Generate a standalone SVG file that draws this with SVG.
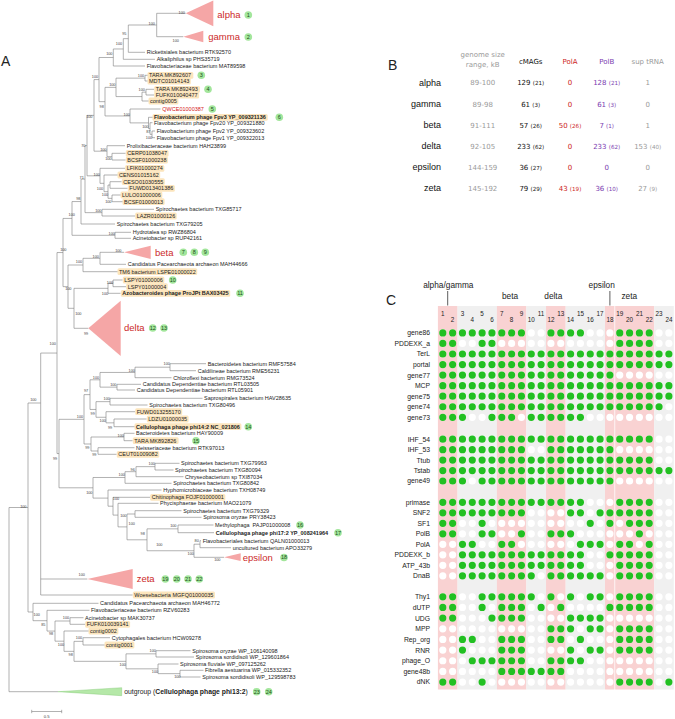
<svg xmlns="http://www.w3.org/2000/svg" width="675" height="719" viewBox="0 0 675 719">
<style>
.t{font-family:"Liberation Sans",Arial,sans-serif;font-size:5.5px;fill:#222}
.b{font-weight:bold}
.red{fill:#d42020}
.bs{font-family:"Liberation Sans",Arial,sans-serif;font-size:3.8px;fill:#444;text-anchor:middle}
.hl{fill:#fce5bd}
.br{fill:none;stroke:#7d7d7d;stroke-width:0.6}
.tri{fill:#f5a6a6}
.cl{font-family:"Liberation Sans",Arial,sans-serif;font-size:9.5px;fill:#cc2a2a}
.bdg circle{fill:#a3e69c}
.bdg text{font-family:"Liberation Sans",Arial,sans-serif;font-size:5.5px;fill:#1b4d1b;text-anchor:middle}
.pl{font-family:"Liberation Sans",Arial,sans-serif;font-size:14px;fill:#222}
.tb{font-family:"DejaVu Sans",Verdana,sans-serif;font-size:7px;text-anchor:middle}
.gr{fill:#9a9a9a}.rd{fill:#cc1a1a}.pu{fill:#7a3bb0}.bk{fill:#111}
.sm{font-size:5.6px}
.rn{font-family:"Liberation Sans",Arial,sans-serif;font-size:9px;fill:#111;text-anchor:end}
.rl{font-family:"Liberation Sans",Arial,sans-serif;font-size:6.8px;fill:#222;text-anchor:end}
.cn{font-family:"Liberation Sans",Arial,sans-serif;font-size:6.3px;fill:#222;text-anchor:middle}
.ch{font-family:"Liberation Sans",Arial,sans-serif;font-size:8.3px;fill:#222;text-anchor:middle}
.pk{fill:#f9d2d2}.gy{fill:#f0f0f0}
.dw{fill:none;stroke:#fff;stroke-width:7.2;stroke-linecap:round;stroke-dasharray:0 9.83}
.dg{fill:none;stroke:#22c022;stroke-width:7.2;stroke-linecap:round;stroke-dasharray:0 9.83}
</style>
<rect width="675" height="719" fill="#fff"/>

<!-- Panel labels -->
<text class="pl" x="1" y="66">A</text>
<text class="pl" x="388" y="70">B</text>
<text class="pl" x="386" y="305">C</text>

<!-- ================= PANEL A : TREE ================= -->
<g id="highlights">
<rect class="hl" x="147.5" y="71.9" width="45.8" height="6.8" rx="1.5"/>
<rect class="hl" x="147.5" y="77.6" width="43.3" height="6.8" rx="1.5"/>
<rect class="hl" x="154.2" y="85.9" width="45.8" height="6.8" rx="1.5"/>
<rect class="hl" x="154.2" y="91.6" width="44.9" height="6.8" rx="1.5"/>
<rect class="hl" x="148.5" y="97.6" width="29.9" height="6.8" rx="1.5"/>
<rect class="hl" x="152.5" y="113.9" width="115.2" height="6.8" rx="1.5"/>
<rect class="hl" x="125.8" y="149.9" width="42.7" height="6.8" rx="1.5"/>
<rect class="hl" x="125.8" y="156.6" width="42.1" height="6.8" rx="1.5"/>
<rect class="hl" x="125.2" y="164.9" width="39.1" height="6.8" rx="1.5"/>
<rect class="hl" x="117.5" y="171.6" width="42.7" height="6.8" rx="1.5"/>
<rect class="hl" x="121.8" y="178.3" width="43" height="6.8" rx="1.5"/>
<rect class="hl" x="127.8" y="184.9" width="47" height="6.8" rx="1.5"/>
<rect class="hl" x="120.5" y="191.6" width="41.8" height="6.8" rx="1.5"/>
<rect class="hl" x="122.5" y="198.3" width="42.1" height="6.8" rx="1.5"/>
<rect class="hl" x="135.2" y="212.6" width="41.5" height="6.8" rx="1.5"/>
<rect class="hl" x="117.5" y="268.3" width="79.7" height="6.8" rx="1.5"/>
<rect class="hl" x="122.8" y="276.6" width="41.5" height="6.8" rx="1.5"/>
<rect class="hl" x="126.2" y="283.3" width="41.5" height="6.8" rx="1.5"/>
<rect class="hl" x="120.8" y="289.9" width="109.4" height="6.8" rx="1.5"/>
<rect class="hl" x="135.2" y="408.3" width="47" height="6.8" rx="1.5"/>
<rect class="hl" x="146.8" y="415.6" width="41.8" height="6.8" rx="1.5"/>
<rect class="hl" x="134.5" y="423.3" width="106.9" height="6.8" rx="1.5"/>
<rect class="hl" x="132.8" y="437.3" width="45.8" height="6.8" rx="1.5"/>
<rect class="hl" x="116.8" y="450.9" width="42.4" height="6.8" rx="1.5"/>
<rect class="hl" x="150.2" y="493.9" width="75.1" height="6.8" rx="1.5"/>
<rect class="hl" x="132.8" y="591.6" width="82.2" height="6.8" rx="1.5"/>
<rect class="hl" x="85.2" y="620.9" width="44.9" height="6.8" rx="1.5"/>
<rect class="hl" x="88.5" y="627.6" width="29.9" height="6.8" rx="1.5"/>
<rect class="hl" x="104.5" y="641.6" width="29.9" height="6.8" rx="1.5"/>
</g>

<g id="tree-connectors">
<path class="br" d="M156.7 13.3V36.7M156.7 13.3H185.7M156.7 36.7H183.3
M128.3 25V52.3M128.3 25H156.7M128.3 52.3H145
M123.3 38.65V59.3M123.3 38.65H128.3M123.3 59.3H155
M113.3 48.98V66M113.3 48.98H123.3M113.3 66H145
M145 75.3V81M145 75.3H147.5M145 81H147.5
M146 89.3V95M146 89.3H154M146 95H154
M142 92.15V101M142 92.15H146M142 101H148.5
M116 78.15V96.58M116 78.15H145M116 96.58H142
M152 131V137.7M152 131H155M152 137.7H155
M150 122.7V134.35M150 122.7H152.5M150 134.35H152
M148.5 117.3V128.53M148.5 117.3H152.5M148.5 128.53H150
M130 109V122.9M130 109H160.5M130 122.9H148.5
M105 87.37V115.95M105 87.37H116M105 115.95H130
M99 57.49V101.66M99 57.49H113.3M99 101.66H105
M112 153.3V160M112 153.3H125.5M112 160H125.5
M107 145.7V156.65M107 145.7H125M107 156.65H112
M94 79.58V151.18M94 79.58H99M94 151.18H107
M112 195V201.7M112 195H120.5M112 201.7H122.5
M110 181.7V188.3M110 181.7H121.5M110 188.3H127.5
M108 185V198.35M108 185H110M108 198.35H112
M104 175V191.68M104 175H117.5M104 191.68H108
M100 168.3V183.34M100 168.3H125M100 183.34H104
M87 115.38V175.82M87 115.38H94M87 175.82H100
M102 209.3V216M102 209.3H154M102 216H135
M85 145.6V212.65M85 145.6H87M85 212.65H102
M81 179.13V224M81 179.13H85M81 224H115
M115 232.3V238.3M115 232.3H131M115 238.3H131
M72 201.56V235.3M72 201.56H81M72 235.3H115
M100 252.3V264.3M100 252.3H124M100 264.3H126
M83 258.3V271.7M83 258.3H100M83 271.7H117.5
M113 280V286.7M113 280H122.5M113 286.7H126
M108 283.35V293.3M108 283.35H113M108 293.3H120.5
M74 288.33V328.3M74 288.33H108M74 328.3H88.3
M68 265V308.3M68 265H83M68 308.3H74
M63 218.43V286.65M63 218.43H72M63 286.65H68
M170 363.7V370.7M170 363.7H206M170 370.7H196
M135 367.2V377.7M135 367.2H170M135 377.7H171.5
M117 384.3V390M117 384.3H141M117 390H135
M100 372.45V387.15M100 372.45H135M100 387.15H117
M110 398.3V405M110 398.3H202.5M110 405H147.5
M114 419V426.7M114 419H146.5M114 426.7H134.5
M106 411.7V422.85M106 411.7H135M106 422.85H114
M96 401.65V417.28M96 401.65H110M96 417.28H106
M90 379.8V409.46M90 379.8H100M90 409.46H96
M124 433.3V440.7M124 433.3H134.5M124 440.7H132.5
M98 447.7V454.3M98 447.7H134.5M98 454.3H116.5
M91 437V451M91 437H124M91 451H98
M84 394.63V444M84 394.63H90M84 444H91
M155 463.3V470M155 463.3H179.5M155 470H173.5
M136 466.65V476.7M136 466.65H155M136 476.7H183.5
M125 471.68V483.3M125 471.68H136M125 483.3H171.5
M135 510.7V517.3M135 510.7H181.5M135 517.3H201.5
M178 525V532.7M178 525H213.5M178 532.7H214
M200 540.7V547.7M200 540.7H201M200 547.7H231
M194 544.2V557.3M194 544.2H200M194 557.3H224
M147 528.85V550.75M147 528.85H178M147 550.75H194
M127 514V539.8M127 514H135M127 539.8H147
M118 503.3V526.9M118 503.3H158.5M118 526.9H127
M113 497.3V515.1M113 497.3H150M113 515.1H118
M108 490V506.2M108 490H161.5M108 506.2H113
M93 477.49V498.1M93 477.49H125M93 498.1H108
M59 419.32V487.8M59 419.32H84M59 487.8H93
M57 252.54V453.56M57 252.54H63M57 453.56H59
M40.7 353.05V595M40.7 353.05H57M40.7 579H87.3M40.7 595H132.5
M28 403V612M28 403H40.7M28 612H33
M33 603.3V620.7M33 603.3H98.5M33 620.7H47
M47 610.3V631.09M47 610.3H89.5M47 631.09H55
M55 621V641.18M55 621H70M55 641.18H64
M70 617.7V624.3M70 617.7H83.5M70 624.3H85
M64 631V651.35M64 631H88.5M64 651.35H74
M74 641.35V661.34M74 641.35H83M74 661.34H126
M83 637.7V645M83 637.7H110M83 645H104.5
M126 653.85V668.83M126 653.85H156M126 668.83H158
M156 650.7V657M156 650.7H190.5M156 657H194
M158 664V673.65M158 664H178.5M158 673.65H180
M180 670.3V677M180 670.3H203.5M180 677H200.5
M9 507.5V691.7M9 507.5H28M9 691.7H58"/>
<path class="br" d="M31.7 711.5H61.7M31.7 709.8V713.2M61.7 709.8V713.2"/>
</g>

<g id="clades">
<g id="clade-alpha"><path class="tri" d="M185.7 13.3L213.3 0.5V26.3Z"/><text class="cl" x="217.3" y="17.5">alpha</text></g>
<g id="clade-gamma"><path class="tri" d="M183.3 36.7L203.3 30.7V42.3Z"/><text class="cl" x="208.3" y="39.5">gamma</text></g>
<g id="clade-beta"><path class="tri" d="M124 252.3L150.7 245.7V259Z"/><text class="cl" x="155" y="255.5">beta</text></g>
<g id="clade-delta"><path class="tri" d="M88.3 328.3L120.7 300.7V356Z"/><text class="cl" x="124" y="330.9">delta</text></g>
<g id="clade-epsilon"><path class="tri" d="M224 557.3L240.7 553.3V561Z"/><text class="cl" x="242.7" y="560.9">epsilon</text></g>
<g id="clade-zeta"><path class="tri" d="M87.3 579L132.7 569V589Z"/><text class="cl" x="136.7" y="582.2">zeta</text></g>
<g id="clade-outgroup"><path d="M58 691.7L121.7 687.7V695.7Z" fill="#b5e8a8" stroke="#7cc46c" stroke-width="0.4"/><text class="t" style="font-size:6.8px" x="124.3" y="694.1">outgroup (<tspan class="b">Cellulophaga phage phi13:2</tspan>)</text></g>
</g>

<g id="leaves">
<text class="t" x="146.7" y="54.2">Rickettsiales bacterium RTK92570</text>
<text class="t" x="156.7" y="61.2">Alkaliphilus sp PHS35719</text>
<text class="t" x="146.7" y="67.9">Flavobacteriaceae bacterium MAT89598</text>
<text class="t" x="149" y="77.2">TARA MK892607</text>
<text class="t" x="149" y="82.9">MDTC01014143</text>
<text class="t" x="155.7" y="91.2">TARA MK892493</text>
<text class="t" x="155.7" y="96.9">FUFK010040477</text>
<text class="t" x="150" y="102.9">contig0005</text>
<text class="t red" x="162.3" y="110.9">QWCE01000387</text>
<text class="t b" x="154" y="119.2">Flavobacterium phage Fpv3 YP_009321136</text>
<text class="t" x="154" y="124.6">Flavobacterium phage Fpv20 YP_009321880</text>
<text class="t" x="156.7" y="132.9">Flavobacterium phage Fpv2 YP_009323602</text>
<text class="t" x="156.7" y="139.6">Flavobacterium phage Fpv1 YP_009322013</text>
<text class="t" x="126.7" y="147.6">Prolixibacteraceae bacterium HAH23899</text>
<text class="t" x="127.3" y="155.2">CERP01038047</text>
<text class="t" x="127.3" y="161.9">BCSF01000238</text>
<text class="t" x="126.7" y="170.2">LFIK01000274</text>
<text class="t" x="119" y="176.9">CENS01015162</text>
<text class="t" x="123.3" y="183.6">CESO01030555</text>
<text class="t" x="129.3" y="190.2">FUWD013401386</text>
<text class="t" x="122" y="196.9">LULO01000006</text>
<text class="t" x="124" y="203.6">BCSF01000013</text>
<text class="t" x="155.7" y="211.2">Spirochaetes bacterium TXG85717</text>
<text class="t" x="136.7" y="217.9">LAZR01000126</text>
<text class="t" x="116.7" y="225.9">Spirochaetes bacterium TXG79205</text>
<text class="t" x="132.7" y="234.2">Hydrotalea sp RWZ86804</text>
<text class="t" x="132.7" y="240.2">Acinetobacter sp RUP42161</text>
<text class="t" x="127.7" y="266.2">Candidatus Pacearchaeota archaeon MAH44666</text>
<text class="t" x="119" y="273.6">TM6 bacterium LSPE01000022</text>
<text class="t" x="124.3" y="281.9">LSPY01000006</text>
<text class="t" x="127.7" y="288.6">LSPY01000004</text>
<text class="t b" x="122.3" y="295.2">Azobacteroides phage ProJPt BAX03425</text>
<text class="t" x="207.7" y="365.6">Bacteroidetes bacterium RMF57584</text>
<text class="t" x="197.7" y="372.6">Caldilineae bacterium RME56231</text>
<text class="t" x="173.3" y="379.6">Chloroflexi bacterium RMG73524</text>
<text class="t" x="142.7" y="386.2">Candidatus Dependentiae bacterium RTL03505</text>
<text class="t" x="136.7" y="391.9">Candidatus Dependentiae bacterium RTL05901</text>
<text class="t" x="204" y="400.2">Saprospirales bacterium HAV28635</text>
<text class="t" x="149.3" y="406.9">Spirochaetes bacterium TXG80496</text>
<text class="t" x="136.7" y="413.6">FUWD013255170</text>
<text class="t" x="148.3" y="420.9">LDZU01000035</text>
<text class="t b" x="136" y="428.6">Cellulophaga phage phi14:2 NC_021806</text>
<text class="t" x="136" y="435.2">Bacteroidetes bacterium HAY90009</text>
<text class="t" x="134.3" y="442.6">TARA MK892826</text>
<text class="t" x="136" y="449.6">Neisseriaceae bacterium RTK97013</text>
<text class="t" x="118.3" y="456.2">CEUT01009082</text>
<text class="t" x="181" y="465.2">Spirochaetes bacterium TXG79963</text>
<text class="t" x="175" y="471.9">Spirochaetes bacterium TXG80094</text>
<text class="t" x="185" y="478.6">Chryseobacterium sp TXI87034</text>
<text class="t" x="173.3" y="485.2">Spirochaetes bacterium TXG80842</text>
<text class="t" x="163.3" y="491.9">Hyphomicrobiaceae bacterium TXH08749</text>
<text class="t" x="151.7" y="499.2">Chitinophaga FOJF01000001</text>
<text class="t" x="160" y="505.2">Phycisphaerae bacterium MAO21079</text>
<text class="t" x="183.3" y="512.6">Spirochaetes bacterium TXG79329</text>
<text class="t" x="203.3" y="519.2">Spirosoma oryzae PRY38423</text>
<text class="t" x="215" y="526.9" xml:space="preserve">Methylophaga  PAJP01000008</text>
<text class="t b" x="215.7" y="534.6">Cellulophaga phage phi17:2 YP_008241964</text>
<text class="t" x="202.7" y="542.6">Flavobacteriales bacterium QALN01000013</text>
<text class="t" x="232.7" y="549.6">uncultured bacterium APO33279</text>
<text class="t" x="134.3" y="596.9">Woesebacteria MGFQ01000035</text>
<text class="t" x="100" y="605.2">Candidatus Pacearchaeota archaeon MAH46772</text>
<text class="t" x="91" y="612.2">Flavobacteriaceae bacterium RZV60283</text>
<text class="t" x="85" y="619.6">Acinetobacter sp MAK30737</text>
<text class="t" x="86.7" y="626.2">FUFK010039141</text>
<text class="t" x="90" y="632.9">contig0002</text>
<text class="t" x="111.7" y="639.6">Cytophagales bacterium HCW09278</text>
<text class="t" x="106" y="646.9">contig0001</text>
<text class="t" x="192.3" y="652.6">Spirosoma oryzae WP_106140098</text>
<text class="t" x="195.7" y="658.9">Spirosoma sordidisoli WP_129601864</text>
<text class="t" x="180" y="665.9">Spirosoma fluviale WP_097125262</text>
<text class="t" x="205" y="672.2">Fibrella aestuarina WP_015332352</text>
<text class="t" x="202.3" y="678.9">Spirosoma sordidisoli WP_129598783</text>
<text class="bs" style="font-size:4.2px" x="46.7" y="718">0.5</text>
</g>

<g id="bootstrap">
<text class="bs" x="181.7" y="14">100</text><text class="bs" x="175.7" y="42">100</text><text class="bs" x="151.7" y="24.6">100</text>
<text class="bs" x="124.3" y="35">95</text><text class="bs" x="119" y="44.6">100</text><text class="bs" x="109.3" y="54.6">100</text>
<text class="bs" x="95" y="78">100</text><text class="bs" x="141" y="77.3">100</text><text class="bs" x="112.3" y="86.3">100</text>
<text class="bs" x="141.7" y="91.3">100</text><text class="bs" x="101.7" y="108">98</text><text class="bs" x="126.7" y="115.6">100</text>
<text class="bs" x="89.3" y="118">100</text><text class="bs" x="145.3" y="128">100</text><text class="bs" x="148.3" y="133">87</text>
<text class="bs" x="149" y="139">100</text><text class="bs" x="83.3" y="147">70</text><text class="bs" x="103.3" y="151.3">100</text>
<text class="bs" x="108.3" y="159.6">100</text><text class="bs" x="96.7" y="176.3">100</text><text class="bs" x="100" y="189.6">100</text>
<text class="bs" x="105" y="196.3">100</text><text class="bs" x="108.3" y="203">100</text><text class="bs" x="81.7" y="179">71</text>
<text class="bs" x="78.3" y="200.3">98</text><text class="bs" x="98.3" y="212.3">100</text><text class="bs" x="71.7" y="216.3">100</text>
<text class="bs" x="111.7" y="234.6">100</text><text class="bs" x="63.3" y="251.3">100</text><text class="bs" x="118.3" y="252">100</text>
<text class="bs" x="95.7" y="258">100</text><text class="bs" x="79" y="263">100</text><text class="bs" x="110" y="283.6">100</text>
<text class="bs" x="105" y="294.6">100</text><text class="bs" x="68.3" y="289.6">100</text><text class="bs" x="78.3" y="314.6">100</text>
<text class="bs" x="86" y="334.6">99</text><text class="bs" x="52.7" y="344.6">100</text><text class="bs" x="166.7" y="365.3">100</text>
<text class="bs" x="131.7" y="371.6">100</text><text class="bs" x="96" y="378.6">100</text><text class="bs" x="113.3" y="385.6">100</text>
<text class="bs" x="86" y="392.3">97</text><text class="bs" x="106.7" y="399.6">100</text><text class="bs" x="92.7" y="414.6">99</text>
<text class="bs" x="80" y="418">100</text><text class="bs" x="102.7" y="422.3">100</text><text class="bs" x="110" y="428.6">99</text>
<text class="bs" x="120.7" y="437.3">100</text><text class="bs" x="87.3" y="448.6">99</text><text class="bs" x="94.3" y="456.3">99</text>
<text class="bs" x="55" y="460.3">99</text><text class="bs" x="151.7" y="464.6">100</text><text class="bs" x="132.7" y="470.6">96</text>
<text class="bs" x="121.7" y="476.3">100</text><text class="bs" x="89.3" y="493.6">100</text><text class="bs" x="116" y="500.3">100</text>
<text class="bs" x="33.3" y="401.3">100</text><text class="bs" x="23.3" y="508">100</text><text class="bs" x="123.3" y="517.3">100</text>
<text class="bs" x="131.7" y="525.3">100</text><text class="bs" x="173.3" y="527.3">100</text><text class="bs" x="142.7" y="534.6">98</text>
<text class="bs" x="196.7" y="542">80</text><text class="bs" x="159.3" y="545.6">100</text><text class="bs" x="190.7" y="554.6">100</text>
<text class="bs" x="217.3" y="561.3">100</text><text class="bs" x="81.7" y="576.3">100</text><text class="bs" x="36.7" y="616.3">100</text>
<text class="bs" x="43.3" y="625.6">85</text><text class="bs" x="66" y="619">100</text><text class="bs" x="51" y="635.3">98</text>
<text class="bs" x="79" y="639">100</text><text class="bs" x="61" y="645.6">100</text><text class="bs" x="70.7" y="656.3">98</text>
<text class="bs" x="152.7" y="652.3">100</text><text class="bs" x="122.7" y="665.6">100</text><text class="bs" x="155" y="672.6">100</text>
<text class="bs" x="177.3" y="678.3">100</text>
</g>

<g id="badges" class="bdg">
<circle cx="248.3" cy="15" r="3.8"/><text x="248.3" y="16.9">1</text>
<circle cx="248.3" cy="37" r="3.8"/><text x="248.3" y="38.9">2</text>
<circle cx="201.3" cy="75.3" r="3.8"/><text x="201.3" y="77.2">3</text>
<circle cx="208" cy="89.3" r="3.8"/><text x="208" y="91.2">4</text>
<circle cx="212.3" cy="109" r="3.8"/><text x="212.3" y="110.9">5</text>
<circle cx="279.3" cy="117.3" r="3.8"/><text x="279.3" y="119.2">6</text>
<circle cx="183.3" cy="252.3" r="3.8"/><text x="183.3" y="254.2">7</text>
<circle cx="194.3" cy="252.3" r="3.8"/><text x="194.3" y="254.2">8</text>
<circle cx="205.3" cy="252.3" r="3.8"/><text x="205.3" y="254.2">9</text>
<circle cx="172.7" cy="280" r="3.8"/><text x="172.7" y="281.9">10</text>
<circle cx="240" cy="293.3" r="3.8"/><text x="240" y="295.2">11</text>
<circle cx="152.7" cy="328" r="3.8"/><text x="152.7" y="329.9">12</text>
<circle cx="164" cy="328" r="3.8"/><text x="164" y="329.9">13</text>
<circle cx="248.3" cy="426.7" r="3.8"/><text x="248.3" y="428.6">14</text>
<circle cx="196" cy="440.7" r="3.8"/><text x="196" y="442.6">15</text>
<circle cx="300" cy="525" r="3.8"/><text x="300" y="526.9">16</text>
<circle cx="338" cy="532.7" r="3.8"/><text x="338" y="534.6">17</text>
<circle cx="284" cy="557.5" r="3.8"/><text x="284" y="559.4">18</text>
<circle cx="165.3" cy="579" r="3.8"/><text x="165.3" y="580.9">19</text>
<circle cx="176.7" cy="579" r="3.8"/><text x="176.7" y="580.9">20</text>
<circle cx="188" cy="579" r="3.8"/><text x="188" y="580.9">21</text>
<circle cx="199.3" cy="579" r="3.8"/><text x="199.3" y="580.9">22</text>
<circle cx="256.7" cy="691.7" r="3.8"/><text x="256.7" y="693.6">23</text>
<circle cx="268.7" cy="691.7" r="3.8"/><text x="268.7" y="693.6">24</text>
</g>

<!-- ================= PANEL B : TABLE ================= -->
<g id="table">
<text class="tb gr" x="482.7" y="57.3">genome size</text>
<text class="tb gr" x="482.7" y="66.6">range, kB</text>
<text class="tb bk" x="530.7" y="63.6">cMAGs</text>
<text class="tb rd" x="570" y="63.6">PolA</text>
<text class="tb pu" x="606.7" y="63.6">PolB</text>
<text class="tb gr" x="647.7" y="63.6">sup tRNA</text>

<text class="rn" x="441" y="85.8">alpha</text>
<text class="tb gr" x="482.7" y="85.3">89-100</text>
<text class="tb bk" x="530.7" y="85.3">129 <tspan class="sm">(21)</tspan></text>
<text class="tb rd" x="570" y="85.3">0</text>
<text class="tb pu" x="606.7" y="85.3">128 <tspan class="sm">(21)</tspan></text>
<text class="tb gr" x="647.7" y="85.3">1</text>

<text class="rn" x="441" y="107.1">gamma</text>
<text class="tb gr" x="482.7" y="106.6">89-98</text>
<text class="tb bk" x="530.7" y="106.6">61 <tspan class="sm">(3)</tspan></text>
<text class="tb rd" x="570" y="106.6">0</text>
<text class="tb pu" x="606.7" y="106.6">61 <tspan class="sm">(3)</tspan></text>
<text class="tb gr" x="647.7" y="106.6">0</text>

<text class="rn" x="441" y="128.1">beta</text>
<text class="tb gr" x="482.7" y="127.6">91-111</text>
<text class="tb bk" x="530.7" y="127.6">57 <tspan class="sm">(26)</tspan></text>
<text class="tb rd" x="570" y="127.6">50 <tspan class="sm">(26)</tspan></text>
<text class="tb pu" x="606.7" y="127.6">7 <tspan class="sm">(1)</tspan></text>
<text class="tb gr" x="647.7" y="127.6">1</text>

<text class="rn" x="441" y="149.4">delta</text>
<text class="tb gr" x="482.7" y="148.9">92-105</text>
<text class="tb bk" x="530.7" y="148.9">233 <tspan class="sm">(62)</tspan></text>
<text class="tb rd" x="570" y="148.9">0</text>
<text class="tb pu" x="606.7" y="148.9">233 <tspan class="sm">(62)</tspan></text>
<text class="tb gr" x="647.7" y="148.9">153 <tspan class="sm">(40)</tspan></text>

<text class="rn" x="441" y="170.4">epsilon</text>
<text class="tb gr" x="482.7" y="169.9">144-159</text>
<text class="tb bk" x="530.7" y="169.9">36 <tspan class="sm">(27)</tspan></text>
<text class="tb rd" x="570" y="169.9">0</text>
<text class="tb pu" x="606.7" y="169.9">0</text>
<text class="tb gr" x="647.7" y="169.9">0</text>

<text class="rn" x="441" y="191.4">zeta</text>
<text class="tb gr" x="482.7" y="190.9">145-192</text>
<text class="tb bk" x="530.7" y="190.9">79 <tspan class="sm">(29)</tspan></text>
<text class="tb rd" x="570" y="190.9">43 <tspan class="sm">(19)</tspan></text>
<text class="tb pu" x="606.7" y="190.9">36 <tspan class="sm">(10)</tspan></text>
<text class="tb gr" x="647.7" y="190.9">27 <tspan class="sm">(9)</tspan></text>
</g>

<!-- ================= PANEL C : MATRIX ================= -->
<g id="matrix-bg">
<rect class="pk" x="437.9" y="306" width="19.66" height="383.5"/>
<rect class="gy" x="457.56" y="306" width="39.32" height="383.5"/>
<rect class="pk" x="496.88" y="306" width="29.49" height="383.5"/>
<rect class="gy" x="526.37" y="306" width="19.66" height="383.5"/>
<rect class="pk" x="546.03" y="306" width="19.66" height="383.5"/>
<rect class="gy" x="565.69" y="306" width="39.32" height="383.5"/>
<rect class="pk" x="605.01" y="306" width="9.4" height="383.5"/>
<rect class="pk" x="615.2" y="306" width="38.95" height="383.5"/>
<rect class="gy" x="654.15" y="306" width="19.66" height="383.5"/>
</g>

<g id="matrix-header">
<text class="ch" x="448.3" y="288.3">alpha/gamma</text>
<text class="ch" x="510" y="299.3">beta</text>
<text class="ch" x="553.3" y="299.3">delta</text>
<text class="ch" x="601.7" y="288.3">epsilon</text>
<text class="ch" x="629.3" y="299.3">zeta</text>
<path d="M447.7 291V305.5M609.9 291V305.5" stroke="#333" stroke-width="0.8" fill="none"/>
<text class="cn" x="442.8" y="316.3">1</text><text class="cn" x="462.46" y="316.3">3</text><text class="cn" x="482.12" y="316.3">5</text>
<text class="cn" x="501.78" y="316.3">7</text><text class="cn" x="521.44" y="316.3">9</text><text class="cn" x="541.1" y="316.3">11</text>
<text class="cn" x="560.76" y="316.3">13</text><text class="cn" x="580.42" y="316.3">15</text><text class="cn" x="600.08" y="316.3">17</text>
<text class="cn" x="619.74" y="316.3">19</text><text class="cn" x="639.4" y="316.3">21</text><text class="cn" x="659.06" y="316.3">23</text>
<text class="cn" x="452.63" y="322.3">2</text><text class="cn" x="472.29" y="322.3">4</text><text class="cn" x="491.95" y="322.3">6</text>
<text class="cn" x="511.61" y="322.3">8</text><text class="cn" x="531.27" y="322.3">10</text><text class="cn" x="550.93" y="322.3">12</text>
<text class="cn" x="570.59" y="322.3">14</text><text class="cn" x="590.25" y="322.3">16</text><text class="cn" x="609.91" y="322.3">18</text>
<text class="cn" x="629.57" y="322.3">20</text><text class="cn" x="649.23" y="322.3">22</text><text class="cn" x="668.89" y="322.3">24</text>
</g>

<g id="matrix-rows">
<text class="rl" x="430" y="335.3">gene86</text>
<text class="rl" x="430" y="345.85">PDDEXK_a</text>
<text class="rl" x="430" y="356.4">TerL</text>
<text class="rl" x="430" y="366.95">portal</text>
<text class="rl" x="430" y="377.5">gene77</text>
<text class="rl" x="430" y="388.05">MCP</text>
<text class="rl" x="430" y="398.6">gene75</text>
<text class="rl" x="430" y="409.15">gene74</text>
<text class="rl" x="430" y="419.7">gene73</text>
<text class="rl" x="430" y="441.6">IHF_54</text>
<text class="rl" x="430" y="452.05">IHF_53</text>
<text class="rl" x="430" y="462.5">Ttub</text>
<text class="rl" x="430" y="472.95">Tstab</text>
<text class="rl" x="430" y="483.4">gene49</text>
<text class="rl" x="430" y="504.7">primase</text>
<text class="rl" x="430" y="515.2">SNF2</text>
<text class="rl" x="430" y="525.7">SF1</text>
<text class="rl" x="430" y="536.2">PolB</text>
<text class="rl" x="430" y="546.7">PolA</text>
<text class="rl" x="430" y="557.2">PDDEXK_b</text>
<text class="rl" x="430" y="567.7">ATP_43b</text>
<text class="rl" x="430" y="578.2">DnaB</text>
<text class="rl" x="430" y="599.2">Thy1</text>
<text class="rl" x="430" y="609.86">dUTP</text>
<text class="rl" x="430" y="620.52">UDG</text>
<text class="rl" x="430" y="631.18">MPP</text>
<text class="rl" x="430" y="641.84">Rep_org</text>
<text class="rl" x="430" y="652.5">RNR</text>
<text class="rl" x="430" y="663.16">phage_O</text>
<text class="rl" x="430" y="673.82">gene48b</text>
<text class="rl" x="430" y="684.48">dNK</text>
</g>

<g id="matrix-dots">
<path class="dw" d="M442.8 332.9H669.29M442.8 343.45H669.29M442.8 354H669.29M442.8 364.55H669.29M442.8 375.1H669.29M442.8 385.65H669.29M442.8 396.2H669.29M442.8 406.75H669.29M442.8 417.3H669.29
M442.8 439.2H669.29M442.8 449.65H669.29M442.8 460.1H669.29M442.8 470.55H669.29M442.8 481H669.29
M442.8 502.3H669.29M442.8 512.8H669.29M442.8 523.3H669.29M442.8 533.8H669.29M442.8 544.3H669.29M442.8 554.8H669.29M442.8 565.3H669.29M442.8 575.8H669.29
M442.8 596.8H669.29M442.8 607.46H669.29M442.8 618.12H669.29M442.8 628.78H669.29M442.8 639.44H669.29M442.8 650.1H669.29M442.8 660.76H669.29M442.8 671.42H669.29M442.8 682.08H669.29"/>
<path class="dg" d="M442.8 332.9H521.84M550.93 332.9H580.82M619.74 332.9H649.63
M442.8 343.45H453.03M482.12 343.45H492.35M619.74 343.45H649.63
M442.8 354H669.29
M442.8 364.55H669.29
M442.8 375.1H610.31
M442.8 385.65H669.29
M442.8 396.2H669.29
M442.8 406.75H659.46
M442.8 417.3H462.86M491.95 417.3H512.01M531.27 417.3H580.82
M442.8 439.2H649.63
M442.8 449.65H521.84M550.93 449.65H610.31
M442.8 460.1H649.63
M442.8 470.55H669.29
M442.8 481H462.86M482.12 481H610.31
M442.8 502.3H580.82M619.74 502.3H649.63
M442.8 512.8H521.84M570.59 512.8H580.82M600.08 512.8H649.63
M442.8 523.3H453.03M482.12 523.3H482.52M590.25 523.3H590.65M609.91 523.3H610.31M629.57 523.3H649.63
M442.8 533.8H453.03M482.12 533.8H492.35M521.44 533.8H521.84M550.93 533.8H570.99M639.4 533.8H639.8
M462.46 544.3H472.69M501.78 544.3H512.01M580.42 544.3H600.48M619.74 544.3H629.97M649.23 544.3H649.63
M462.46 554.8H580.82M609.91 554.8H649.63
M462.46 565.3H580.82M619.74 565.3H649.63
M462.46 575.8H531.67M550.93 575.8H600.48M619.74 575.8H649.63
M442.8 596.8H453.03M482.12 596.8H531.67M550.93 596.8H551.33M570.59 596.8H570.99M590.25 596.8H600.48M619.74 596.8H649.63
M442.8 607.46H453.03M482.12 607.46H482.52M501.78 607.46H521.84M541.1 607.46H541.5M560.76 607.46H561.16M609.91 607.46H649.63
M442.8 618.12H453.03M491.95 618.12H521.84M570.59 618.12H600.48
M550.93 628.78H570.99M590.25 628.78H600.48M619.74 628.78H649.63
M462.46 639.44H472.69M501.78 639.44H521.84M550.93 639.44H561.16M580.42 639.44H580.82M619.74 639.44H649.63
M462.46 650.1H462.86M501.78 650.1H521.84M570.59 650.1H570.99M590.25 650.1H600.48M619.74 650.1H649.63
M472.29 660.76H521.84M550.93 660.76H580.82
M501.78 671.42H561.16
M442.8 682.08H453.03M482.12 682.08H482.52M619.74 682.08H649.63M668.89 682.08H669.29"/>
</g>
</svg>
